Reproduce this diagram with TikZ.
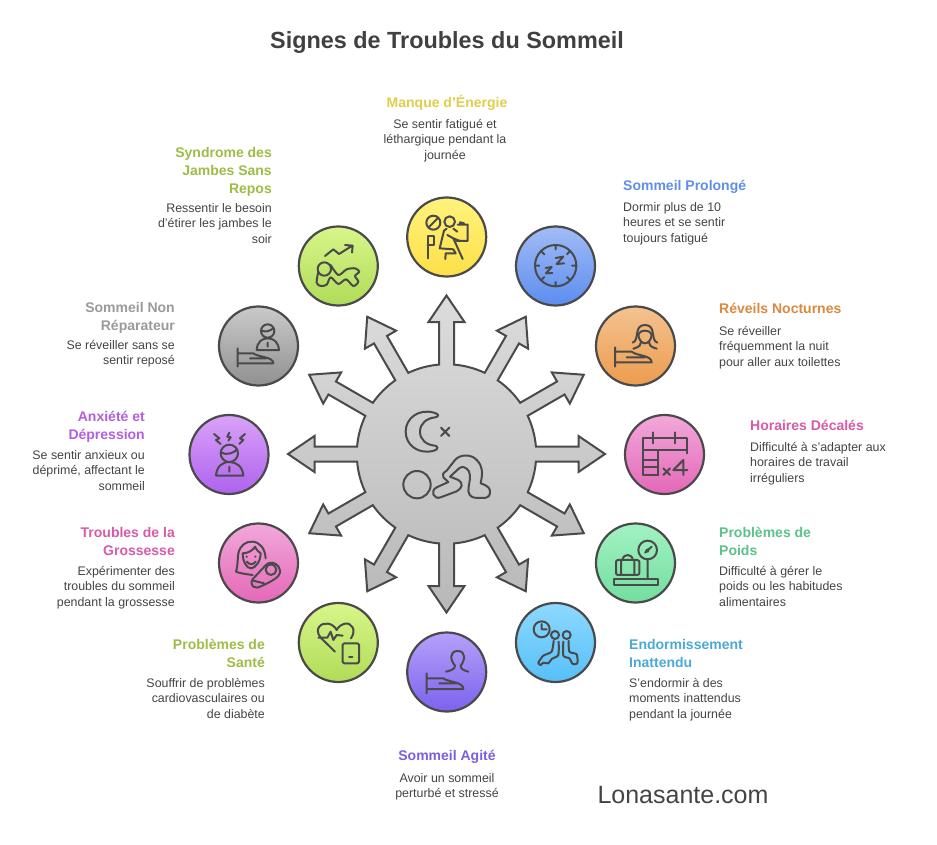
\documentclass[tikz,border=0pt]{standalone}
\usepackage{fontspec}
\setmainfont{Liberation Sans}
\definecolor{ln}{HTML}{4A4A4A}
\definecolor{txt}{HTML}{444444}
\definecolor{ttl}{HTML}{404040}
\definecolor{hubt}{HTML}{DCDCDC}
\definecolor{hubb}{HTML}{B8B8B8}
\definecolor{yT}{HTML}{FFF27C}\definecolor{yB}{HTML}{FDE048}\definecolor{yH}{HTML}{E0CE4A}
\definecolor{bT}{HTML}{A2BCF6}\definecolor{bB}{HTML}{5B8DEF}\definecolor{bH}{HTML}{5F8FE8}
\definecolor{oT}{HTML}{F4C290}\definecolor{oB}{HTML}{EC9C4E}\definecolor{oH}{HTML}{D98A3E}
\definecolor{pT}{HTML}{F2A8DA}\definecolor{pB}{HTML}{E468B8}\definecolor{pH}{HTML}{D85AA8}
\definecolor{gT}{HTML}{A2F2C2}\definecolor{gB}{HTML}{72DE9E}\definecolor{gH}{HTML}{5CC28A}
\definecolor{cT}{HTML}{8DD9FF}\definecolor{cB}{HTML}{56BFF7}\definecolor{cH}{HTML}{4BA9D8}
\definecolor{vT}{HTML}{B6A0FA}\definecolor{vB}{HTML}{7C62EE}\definecolor{vH}{HTML}{7A5FE0}
\definecolor{lT}{HTML}{D8F58A}\definecolor{lB}{HTML}{B0DC58}\definecolor{lH}{HTML}{9DBD45}
\definecolor{mT}{HTML}{DAA2F9}\definecolor{mB}{HTML}{AE62EE}\definecolor{mH}{HTML}{B35FDF}
\definecolor{sT}{HTML}{CACACA}\definecolor{sB}{HTML}{909090}\definecolor{sH}{HTML}{9A9A9A}
\tikzset{
  bub/.style 2 args={circle,minimum size=79pt,inner sep=0pt,draw=ln,line width=2.2pt,top color=#1,bottom color=#2},
  ic/.style={draw=ln,line width=2pt,line cap=round,line join=round,fill=none},
  head/.style={inner sep=0pt,font=\fontsize{14}{18}\bfseries\selectfont,execute at begin node={\rule{0pt}{12.5pt}}},
  headm/.style={head,yshift=-2pt},
  body/.style={inner sep=0pt,yshift=-2pt,text=txt,font=\fontsize{12.4}{15.5}\selectfont,execute at begin node={\rule{0pt}{13.2pt}}},
  lft/.style={anchor=north west,align=left},
  rgt/.style={anchor=north east,align=right},
  mid/.style={anchor=north,align=center},
}
\def\hp#1#2{({446.5+(#1)*cos(\a)-(#2)*sin(\a)},{454+(#1)*sin(\a)+(#2)*cos(\a)})}
\begin{document}
\begin{tikzpicture}[x=1pt,y=-1pt]
\useasboundingbox (0,0) rectangle (937,845);
\fill[white] (0,0) rectangle (937,845);
\node[inner sep=0pt,text=ttl,font=\fontsize{23.4}{28}\bfseries\selectfont] (title) at (447,43) {Signes de Troubles du Sommeil};
% hub
\def\a{0}
\path[draw=ln,line width=2pt,line join=miter,top color=hubt,bottom color=hubb]
  \hp{89.4}{-7.5}
  foreach \a in {0,30,...,330}{
    -- \hp{89.4}{-7.5} -- \hp{132}{-7.5} -- \hp{132}{-18} -- \hp{158.5}{0} -- \hp{132}{18} -- \hp{132}{7.5} -- \hp{89.4}{7.5}
    arc[start angle=\a+4.8,end angle=\a+25.2,radius=89.7]
  } -- cycle;
% bubbles
\node[bub={yT}{yB}] (b1) at (446.7,237) {};
\node[bub={bT}{bB}] (b2) at (555.5,266) {};
\node[bub={oT}{oB}] (b3) at (635.5,346) {};
\node[bub={pT}{pB}] (b4) at (664.5,454.5) {};
\node[bub={gT}{gB}] (b5) at (635.5,563) {};
\node[bub={cT}{cB}] (b6) at (555.5,642.5) {};
\node[bub={vT}{vB}] (b7) at (446.7,672) {};
\node[bub={lT}{lB}] (b8) at (338.3,642.5) {};
\node[bub={pT}{pB}] (b9) at (258.5,563) {};
\node[bub={mT}{mB}] (b10) at (229,454.5) {};
\node[bub={sT}{sB}] (b11) at (258.5,346) {};
\node[bub={lT}{lB}] (b12) at (338.3,266) {};
% hub icon
\begin{scope}[shift={(280,280)},scale=1/3]
\draw[ic] (462,398) .. controls (415,385) and (377,415) .. (377,455) .. controls (377,495) and (415,525) .. (462,512) .. controls (478,508) and (472,497) .. (465,497) .. controls (440,495) and (420,480) .. (420,455) .. controls (420,430) and (440,415) .. (465,412) .. controls (478,410) and (478,402) .. (462,398) -- cycle;
\draw[ic] (483,443) -- (508,468) (508,443) -- (483,468);
\draw[ic] (411,614) circle[radius=41];
\draw[ic] (470,622) -- (505,606) -- (490,592) .. controls (485,585) and (490,578) .. (500,572) -- (525,540) .. controls (540,522) and (575,522) .. (590,540) .. controls (610,560) and (608,580) .. (602,610) .. controls (625,618) and (632,625) .. (630,640) .. controls (628,650) and (620,654) .. (610,654) -- (590,654) .. controls (570,654) and (562,640) .. (566,620) .. controls (572,590) and (572,575) .. (560,566) .. controls (550,558) and (540,560) .. (532,570) -- (510,590) -- (535,600) .. controls (550,608) and (548,625) .. (530,634) -- (482,652) .. controls (460,660) and (450,632) .. (470,622) -- cycle;
\end{scope}
% top row icons
\begin{scope}[shift={(290,190)},scale=1/3]
% manque
\draw[ic] (430,98) circle[radius=21] (415,113) -- (445,83);
\draw[ic] (479,95) circle[radius=16];
\draw[ic] (413,205) -- (413,138) -- (432,138) -- (432,165) -- (413,165);
\draw[ic] (470,116) -- (462,122) -- (449,175) -- (490,178) -- (497,190) (466,207) -- (467,190) -- (497,190) (518,207) -- (490,145) -- (472,135) (490,116) -- (502,125) (490,145) -- (510,153);
\draw[ic] (503,104) -- (533,104) -- (533,153) -- (500,153) (510,104) -- (510,97) -- (522,100);
% syndrome
\draw[ic] (105,198) -- (130,178) -- (147,192) -- (187,167) (165,165) -- (188,167) -- (186,188);
\draw[ic] (103,237) circle[radius=20];
\draw[ic] plot[smooth,tension=0.5] coordinates {(85,245) (80,278) (92,288) (110,284) (122,262) (145,282) (168,268) (190,288) (205,275) (195,258) (208,245) (195,235) (170,238) (145,255) (122,225)};
% prolonge
\draw[ic] (797,227) circle[radius=62];
\draw[ic] (797,165) -- (797,178) (797,289) -- (797,276) (735,227) -- (748,227) (859,227) -- (846,227) (755,185) -- (763,193) (839,185) -- (831,193) (755,269) -- (763,261) (839,269) -- (831,261);
\draw[ic] (797,204) -- (820,200) -- (800,222) -- (822,220) (767,234) -- (785,231) -- (768,250) -- (787,249);
\end{scope}
% right icons
\begin{scope}[shift={(590,300)},scale=1/3]
% reveils
\draw[ic] (75,142) -- (75,200) (75,155) -- (125,155) .. controls (140,168) and (185,165) .. (185,187) -- (75,187) (110,172) -- (165,172);
\draw[ic] (128,128) .. controls (150,120) and (130,75) .. (165,75) .. controls (200,75) and (180,120) .. (202,128);
\draw[ic] (145,103) .. controls (150,88) and (180,88) .. (185,103) .. controls (185,118) and (175,130) .. (165,130) .. controls (155,130) and (145,118) .. (145,103) (130,146) .. controls (150,140) and (152,135) .. (154,125) (200,146) .. controls (180,140) and (178,135) .. (176,125);
% horaires
\draw[ic] (205,525) -- (160,525) -- (160,415) -- (290,415) -- (290,460) (190,397) -- (190,430) (255,397) -- (255,430) (160,450) -- (290,450) (160,480) -- (205,480) (160,502) -- (205,502) (205,450) -- (205,525);
\draw[ic] (220,505) -- (240,525) (240,505) -- (220,525) (280,525) -- (280,480) -- (250,510) -- (292,510);
% poids
\draw[ic] (173,750) circle[radius=28] (165,758) -- (185,740);
\fill[ln] (172,752) circle[radius=6];
\draw[ic,rounded corners=2pt] (78,780) rectangle (148,825);
\draw[ic] (98,780) .. controls (98,760) and (128,760) .. (128,780) (93,780) -- (93,825) (133,780) -- (133,825) (173,778) -- (173,835);
\draw[ic] (72,838) rectangle (205,855);
\end{scope}
% left icons
\begin{scope}[shift={(190,300)},scale=1/3]
% non reparateur
\draw[ic] (233,93) circle[radius=20] (215,92) .. controls (228,98) and (240,92) .. (250,85);
\draw[ic] (200,150) -- (267,150) .. controls (265,125) and (250,115) .. (233,115) .. controls (216,115) and (202,125) .. (200,150) (233,128) -- (233,140);
\draw[ic] (143,145) -- (143,200) (143,160) -- (190,160) .. controls (205,172) and (250,170) .. (250,190) -- (143,190) (180,175) -- (228,175);
% anxiete
\draw[ic] (118,460) circle[radius=26] (94,458) .. controls (110,466) and (130,460) .. (142,448);
\draw[ic] (78,527) -- (160,527) .. controls (158,500) and (140,486) .. (118,486) .. controls (96,486) and (80,500) .. (78,527) (118,500) -- (118,515);
\draw[ic] (72,402) -- (88,415) -- (78,420) -- (92,432) (118,398) -- (112,410) -- (122,412) -- (115,422) (165,402) -- (150,415) -- (160,420) -- (148,432);
% grossesse
\draw[ic] (188,825) .. controls (165,822) and (150,820) .. (138,815) .. controls (145,790) and (142,775) .. (145,760) .. controls (150,735) and (170,723) .. (188,725) .. controls (210,727) and (225,745) .. (227,775);
\draw[ic] (158,760) .. controls (175,760) and (190,750) .. (195,740) .. controls (200,750) and (205,755) .. (212,760) .. controls (212,785) and (195,805) .. (183,805) .. controls (170,805) and (158,785) .. (158,760);
\fill[ln] (170,770) circle[radius=3.5] (196,770) circle[radius=3.5];
\draw[ic] (170,785) .. controls (178,795) and (190,795) .. (197,785);
\draw[ic] (190,860) .. controls (180,850) and (185,838) .. (195,830) -- (228,795) .. controls (245,778) and (272,795) .. (270,818) .. controls (268,830) and (250,842) .. (215,858) .. controls (205,863) and (197,865) .. (190,860);
\draw[ic] (243,809) circle[radius=16] (190,842) -- (222,850);
\end{scope}
% bottom icons
\begin{scope}[shift={(290,595)},scale=1/3]
% sante
\draw[ic] (135,170) -- (92,128) .. controls (70,100) and (95,82) .. (115,86) .. controls (125,88) and (135,95) .. (140,105) .. controls (145,95) and (155,88) .. (165,86) .. controls (185,82) and (200,105) .. (183,130);
\draw[ic] (85,128) -- (112,128) -- (122,110) -- (130,135) -- (140,120) -- (158,122);
\draw[ic,rounded corners=1.5pt] (158,145) rectangle (207,205);
\draw[ic] (177,187) -- (187,187);
% agite
\draw[ic] (468,230) .. controls (485,226) and (495,222) .. (495,212) .. controls (480,195) and (478,168) .. (503,168) .. controls (528,168) and (526,195) .. (512,212) .. controls (512,222) and (520,226) .. (535,230);
\draw[ic] (410,235) -- (410,295) (410,250) -- (460,250) .. controls (475,262) and (520,260) .. (520,282) -- (410,282) (448,265) -- (500,265);
% endormissement
\draw[ic] (755,103) circle[radius=24] (755,87) -- (755,103) -- (770,103);
\draw[ic] (795,120) circle[radius=12] (830,120) circle[radius=12];
\draw[ic] plot[smooth,tension=0.4] coordinates {(806,140) (805,180) (785,192) (775,205) (760,203) (752,210) (745,203) (760,182) (785,170) (791,137)};
\draw[ic] plot[smooth,tension=0.4] coordinates {(820,140) (820,182) (838,190) (848,207) (862,205) (860,178) (838,170) (836,137)};
\end{scope}
% labels
\node[head,mid,text=yH] (t1) at (447,95) {Manque d'Énergie};
\node[body,mid] (d1) at (445,117) {Se sentir fatigué et\\léthargique pendant la\\journée};
\node[head,lft,text=bH] (t2) at (623,178) {Sommeil Prolongé};
\node[body,lft] (d2) at (623,200) {Dormir plus de 10\\heures et se sentir\\toujours fatigué};
\node[head,lft,text=oH] (t3) at (719,301) {Réveils Nocturnes};
\node[body,lft] (d3) at (719,324) {Se réveiller\\fréquemment la nuit\\pour aller aux toilettes};
\node[head,lft,text=pH] (t4) at (750,418) {Horaires Décalés};
\node[body,lft] (d4) at (750,440) {Difficulté à s'adapter aux\\horaires de travail\\irréguliers};
\node[headm,lft,text=gH] (t5) at (719,525) {Problèmes de\\Poids};
\node[body,lft] (d5) at (719,564) {Difficulté à gérer le\\poids ou les habitudes\\alimentaires};
\node[headm,lft,text=cH] (t6) at (629,637) {Endormissement\\Inattendu};
\node[body,lft] (d6) at (629,676) {S'endormir à des\\moments inattendus\\pendant la journée};
\node[head,mid,text=vH] (t7) at (447,748) {Sommeil Agité};
\node[body,mid] (d7) at (447,771) {Avoir un sommeil\\perturbé et stressé};
\node[headm,rgt,text=lH] (t8) at (265,637) {Problèmes de\\Santé};
\node[body,rgt] (d8) at (265,676) {Souffrir de problèmes\\cardiovasculaires ou\\de diabète};
\node[headm,rgt,text=pH] (t9) at (175,525) {Troubles de la\\Grossesse};
\node[body,rgt] (d9) at (175,564) {Expérimenter des\\troubles du sommeil\\pendant la grossesse};
\node[headm,rgt,text=mH] (t10) at (145,409) {Anxiété et\\Dépression};
\node[body,rgt] (d10) at (145,448) {Se sentir anxieux ou\\déprimé, affectant le\\sommeil};
\node[headm,rgt,text=sH] (t11) at (175,300) {Sommeil Non\\Réparateur};
\node[body,rgt] (d11) at (175,338) {Se réveiller sans se\\sentir reposé};
\node[headm,rgt,text=lH] (t12) at (272,145) {Syndrome des\\Jambes Sans\\Repos};
\node[body,rgt] (d12) at (272,201) {Ressentir le besoin\\d'étirer les jambes le\\soir};
\node[inner sep=0pt,text=txt,font=\fontsize{25}{30}\selectfont] (site) at (683,795) {Lonasante.com};
\end{tikzpicture}
\end{document}
